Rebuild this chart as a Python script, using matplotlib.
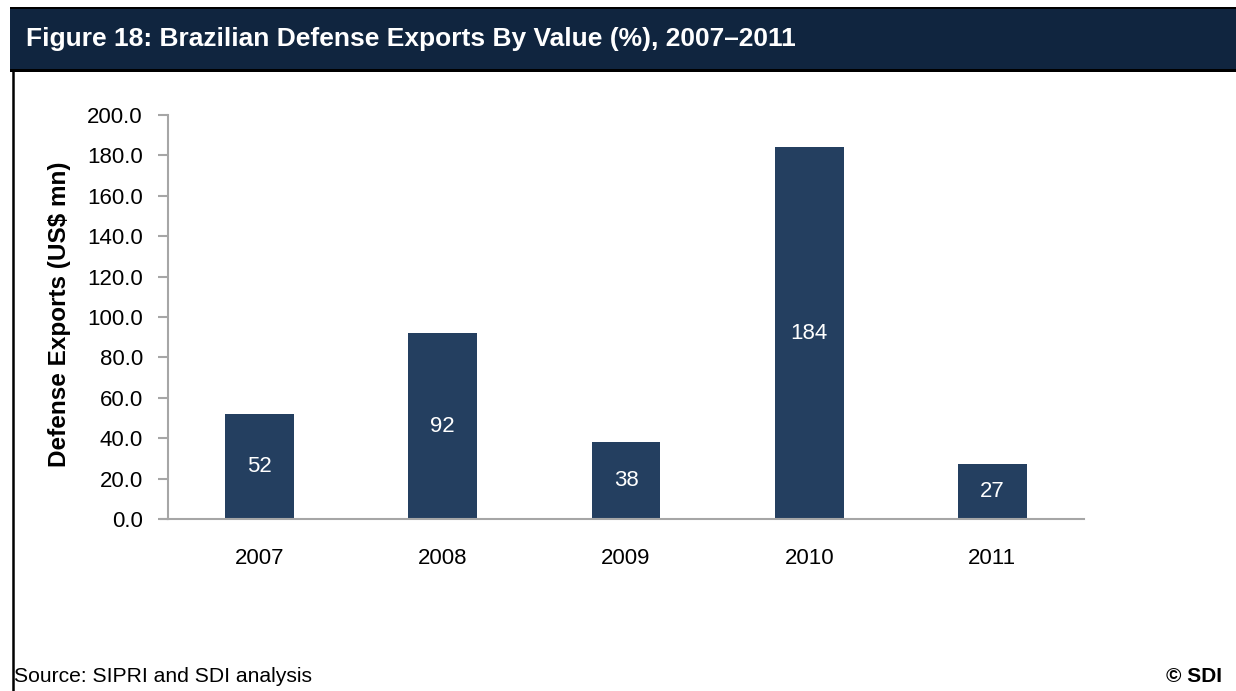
import matplotlib
matplotlib.use("Agg")
import matplotlib.pyplot as plt
from matplotlib.patches import Rectangle
from matplotlib.lines import Line2D

plt.rcParams['font.family'] = ['Liberation Sans', 'DejaVu Sans']

years = ["2007", "2008", "2009", "2010", "2011"]
exports = [52, 92, 38, 184, 27]
y_ticks = [0, 20, 40, 60, 80, 100, 120, 140, 160, 180, 200]

title = "Figure 18: Brazilian Defense Exports By Value (%), 2007\u20132011"
y_label = "Defense Exports (US$ mn)"
source = "Source: SIPRI and SDI analysis"
credit = "\u00a9 SDI"

W, H = 1236, 691
fig = plt.figure(figsize=(W / 100, H / 100), dpi=100)
fig.patch.set_facecolor("white")

def fx(px):
    return px / W

def fy(py):
    return 1 - py / H

# header band with black rules above and below
fig.add_artist(Rectangle((fx(10), fy(72)), fx(W) - fx(10), fy(7) - fy(72),
                         transform=fig.transFigure, facecolor="black",
                         edgecolor="none", zorder=0))
fig.add_artist(Rectangle((fx(10), fy(69)), fx(W) - fx(10), fy(9) - fy(69),
                         transform=fig.transFigure, facecolor="#10253F",
                         edgecolor="none", zorder=1))
# left frame rule
fig.add_artist(Line2D([fx(12.5), fx(12.5)], [fy(70), fy(H)],
                      transform=fig.transFigure, color="black", lw=1.8))

fig.text(fx(26), fy(39), title, color="white", fontsize=19,
         fontweight="bold", va="center", ha="left")

ax = fig.add_axes([fx(168), fy(519), fx(1084) - fx(168), fy(115) - fy(519)])
x = list(range(len(years)))
bars = ax.bar(x, exports, width=0.375, color="#243F60", zorder=2)
for xi, v in zip(x, exports):
    ax.text(xi, v / 2, f"{v}", color="white", fontsize=16,
            ha="center", va="center", zorder=3)

ax.set_xlim(-0.5, len(years) - 0.5)
ax.set_ylim(0, 200)
ax.set_yticks(y_ticks)
ax.set_yticklabels([f"{t:.1f}" for t in y_ticks])
ax.set_xticks(x)
ax.set_xticklabels(years)

for s in ["top", "right"]:
    ax.spines[s].set_visible(False)
axis_grey = "#A6A6A6"
ax.spines["left"].set_color(axis_grey)
ax.spines["bottom"].set_color(axis_grey)
ax.spines["left"].set_linewidth(1.5)
ax.spines["bottom"].set_linewidth(1.5)
ax.tick_params(axis="y", direction="out", length=7, width=1.5, color=axis_grey,
               labelsize=16, pad=11, labelcolor="black")
ax.tick_params(axis="x", length=0, labelsize=16, pad=21, labelcolor="black")

# let the baseline run a little past the y-axis
ax.add_line(Line2D([fx(161), fx(168)], [fy(519), fy(519)],
                   transform=fig.transFigure, color=axis_grey, lw=1.5,
                   clip_on=False))

fig.text(fx(60), fy(314), y_label, rotation=90, fontsize=17.5,
         fontweight="bold", ha="center", va="center")

fig.text(fx(14), fy(676), source, fontsize=15.2, ha="left", va="center")
fig.text(fx(1222), fy(676), credit, fontsize=15, fontweight="bold",
         ha="right", va="center")

fig.savefig("out.png", dpi=100, facecolor="white")
